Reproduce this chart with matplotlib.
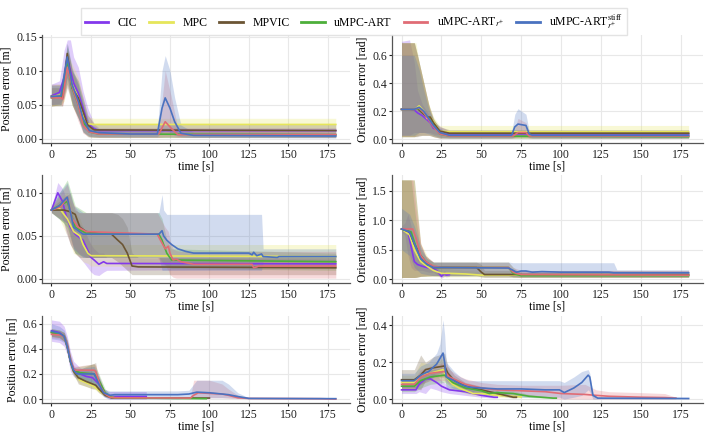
import matplotlib
matplotlib.use("Agg")
import matplotlib.pyplot as plt
from matplotlib.ticker import MultipleLocator

plt.rcParams['font.family'] = ['Liberation Serif', 'DejaVu Serif']
plt.rcParams['mathtext.fontset'] = 'stix'
plt.rcParams['font.size'] = 8.5

labels = ["CIC", "MPC", "MPVIC", "uMPC-ART", r"uMPC-ART$_{r^{+}}$",
          r"uMPC-ART$_{r^{+}}^{\mathrm{stiff}}$"]
colors = ["#8338ec", "#e6e65a", "#6b5534", "#4daf3a", "#e06c75", "#4a72c0"]

# each point: (time, mean, lower, upper)
# --- row 1, position
pos1_cic = [(0,.063,.050,.080),(5,.068,.052,.085),(8,.090,.060,.130),(10,.120,.075,.145),(12,.100,.060,.145),(14,.082,.045,.120),(17,.067,.030,.105),(20,.045,.015,.070),(23,.022,.010,.045),(27,.015,.009,.022),(30,.012,.008,.016),(180,.012,.008,.016)]
pos1_mpc = [(0,.062,.048,.078),(6,.064,.050,.080),(8,.080,.055,.110),(10,.110,.075,.130),(13,.080,.050,.110),(17,.060,.030,.090),(20,.035,.018,.060),(23,.022,.013,.032),(27,.021,.013,.030),(180,.021,.013,.030)]
pos1_mpvic = [(0,.062,.048,.080),(6,.062,.048,.080),(7,.060,.048,.080),(10,.125,.090,.140),(13,.075,.050,.100),(17,.060,.030,.085),(20,.040,.010,.060),(23,.020,.003,.035),(27,.013,.002,.022),(180,.012,.002,.022)]
pos1_art = [(0,.060,.048,.075),(6,.062,.050,.075),(10,.110,.080,.135),(13,.075,.050,.100),(17,.050,.030,.080),(20,.025,.010,.050),(24,.010,.003,.020),(30,.007,.002,.012),(180,.006,.002,.010)]
pos1_artr = [(0,.060,.048,.075),(6,.060,.050,.075),(7,.058,.048,.072),(10,.105,.080,.130),(14,.070,.045,.095),(17,.050,.025,.075),(20,.020,.008,.045),(24,.010,.003,.020),(30,.007,.002,.012),(68,.007,.002,.012),(72,.025,.003,.100),(76,.015,.003,.060),(80,.006,.002,.015),(180,.006,.002,.010)]
pos1_stiff = [(0,.062,.050,.078),(6,.063,.050,.078),(10,.120,.090,.140),(13,.080,.055,.105),(17,.055,.030,.080),(20,.030,.010,.055),(24,.012,.004,.022),(30,.009,.003,.015),(50,.007,.003,.012),(67,.007,.003,.012),(70,.045,.010,.100),(72,.060,.012,.122),(75,.045,.010,.100),(78,.025,.005,.060),(82,.008,.003,.020),(90,.005,.002,.010),(180,.004,.001,.008)]

# --- row 1, orientation
ori1_cic = [(0,.215,.030,.700),(5,.215,.030,.710),(8,.210,.050,.550),(10,.190,.050,.350),(13,.170,.050,.250),(16,.140,.050,.200),(18,.120,.050,.160),(20,.080,.040,.120),(25,.060,.030,.090),(30,.040,.020,.060),(180,.040,.020,.060)]
ori1_mpc = [(0,.215,.020,.690),(8,.215,.020,.690),(9,.220,.030,.690),(11,.240,.050,.550),(14,.200,.050,.400),(16,.150,.050,.300),(18,.160,.040,.220),(20,.130,.030,.160),(24,.060,.020,.100),(30,.055,.010,.100),(180,.055,.010,.100)]
ori1_mpvic = [(0,.215,.020,.690),(8,.215,.020,.690),(10,.220,.020,.600),(13,.190,.030,.450),(16,.160,.030,.300),(18,.160,.030,.200),(20,.120,.020,.140),(24,.060,.010,.090),(30,.045,.010,.070),(180,.045,.010,.070)]
ori1_art = [(0,.215,.020,.690),(8,.215,.020,.690),(11,.220,.030,.550),(14,.190,.030,.400),(17,.150,.030,.250),(20,.100,.020,.150),(24,.040,.010,.070),(30,.025,.010,.040),(180,.020,.010,.035)]
ori1_artr = [(0,.215,.020,.690),(8,.215,.020,.690),(11,.225,.030,.550),(14,.190,.030,.400),(17,.140,.030,.250),(20,.090,.020,.150),(24,.040,.010,.070),(30,.025,.010,.040),(70,.025,.010,.040),(73,.050,.020,.150),(78,.050,.020,.120),(80,.025,.010,.040),(180,.025,.010,.040)]
ori1_stiff = [(0,.215,.030,.600),(8,.215,.030,.600),(11,.230,.050,.500),(14,.200,.050,.350),(17,.150,.040,.220),(20,.100,.030,.140),(24,.050,.015,.080),(30,.030,.010,.050),(69,.030,.010,.050),(71,.090,.020,.180),(73,.110,.030,.220),(78,.100,.030,.180),(80,.040,.015,.060),(82,.030,.010,.050),(180,.030,.010,.050)]

# --- row 2, position
pos2_cic = [(0,.080,.077,.083),(4,.100,.085,.112),(7,.090,.070,.105),(9,.075,.055,.095),(12,.060,.040,.080),(15,.052,.030,.070),(20,.045,.020,.060),(25,.025,.008,.040),(27,.022,.005,.035),(30,.017,.004,.030),(33,.020,.008,.030),(35,.018,.010,.025),(180,.0175,.012,.023)]
pos2_mpc = [(0,.080,.077,.083),(5,.082,.070,.095),(10,.070,.050,.100),(14,.055,.030,.080),(18,.050,.025,.070),(20,.040,.020,.060),(23,.030,.018,.045),(25,.027,.015,.040),(180,.026,.012,.040)]
pos2_mpvic = [(0,.080,.077,.083),(8,.080,.065,.095),(12,.078,.040,.100),(15,.075,.030,.080),(18,.060,.025,.077),(22,.055,.025,.077),(30,.053,.025,.077),(38,.052,.025,.077),(42,.045,.020,.075),(45,.040,.015,.070),(48,.030,.010,.060),(51,.015,.005,.030),(55,.014,.005,.025),(180,.013,.005,.025)]
pos2_art = [(0,.080,.077,.083),(5,.085,.070,.100),(10,.090,.060,.115),(15,.060,.030,.085),(22,.053,.025,.077),(68,.052,.025,.077),(70,.045,.020,.070),(73,.030,.015,.045),(76,.022,.012,.035),(180,.020,.010,.030)]
pos2_artr = [(0,.080,.077,.083),(6,.084,.070,.100),(10,.095,.065,.110),(13,.070,.040,.090),(17,.060,.030,.077),(22,.055,.025,.077),(67,.052,.025,.077),(69,.045,.020,.070),(72,.035,.015,.060),(74,.038,.010,.055),(75,.030,.005,.045),(77,.022,.002,.035),(79,.023,.001,.033),(82,.020,.001,.032),(90,.017,.001,.032),(127,.017,.001,.032),(128,.013,.001,.032),(130,.014,.001,.032),(131,.015,.001,.032),(180,.015,.001,.032)]
pos2_stiff = [(0,.080,.077,.083),(5,.085,.070,.100),(10,.095,.065,.112),(14,.060,.035,.085),(20,.052,.025,.077),(68,.052,.025,.077),(70,.056,.010,.098),(71,.050,.010,.080),(73,.045,.010,.075),(76,.040,.010,.075),(80,.035,.010,.075),(85,.032,.010,.075),(90,.030,.010,.075),(125,.030,.010,.075),(127,.028,.010,.075),(128,.031,.010,.075),(130,.027,.010,.075),(133,.029,.010,.075),(134,.026,.020,.035),(143,.025,.020,.035),(144,.026,.020,.035),(180,.026,.020,.035)]

# --- row 2, orientation
ori2_cic = [(0,.85,.80,.90),(2,.85,.75,.95),(4,.80,.40,1.10),(6,.55,.20,.90),(8,.30,.15,.45),(10,.25,.15,.35),(13,.22,.15,.30),(17,.19,.12,.26),(20,.18,.12,.24),(22,.15,.08,.22),(25,.05,.02,.10),(27,.10,.05,.15),(28,.07,.04,.10),(30,.08,.05,.11)]
ori2_mpc = [(0,.85,.03,1.68),(5,.75,.03,1.68),(8,.50,.03,1.68),(12,.30,.05,.60),(17,.20,.05,.35),(20,.15,.05,.28),(25,.10,.04,.20),(30,.10,.04,.18),(40,.09,.04,.15),(45,.08,.04,.14),(50,.07,.04,.12),(75,.07,.04,.12)]
ori2_mpvic = [(0,.85,.03,1.68),(5,.80,.03,1.68),(8,.60,.03,1.68),(12,.40,.05,.60),(15,.30,.05,.40),(20,.20,.06,.29),(47,.20,.06,.29),(50,.12,.04,.25),(52,.08,.03,.15),(180,.08,.03,.14)]
ori2_art = [(0,.85,.03,1.68),(6,.80,.03,1.68),(9,.55,.03,1.00),(12,.35,.05,.50),(16,.25,.06,.35),(20,.20,.06,.29),(67,.20,.06,.29),(70,.10,.04,.20),(75,.06,.03,.10),(180,.06,.03,.10)]
ori2_artr = [(0,.85,.03,1.68),(7,.85,.03,1.68),(9,.70,.03,1.20),(12,.40,.05,.60),(15,.30,.06,.40),(20,.22,.06,.29),(25,.20,.06,.29),(67,.20,.06,.29),(70,.12,.04,.20),(72,.10,.04,.18),(75,.08,.03,.15),(180,.07,.03,.15)]
ori2_stiff = [(0,.85,.50,1.20),(5,.80,.40,1.10),(8,.60,.20,.90),(12,.35,.10,.55),(16,.25,.08,.35),(20,.20,.06,.29),(67,.19,.06,.29),(70,.15,.05,.28),(72,.12,.05,.28),(75,.14,.05,.28),(78,.14,.05,.28),(82,.12,.05,.28),(88,.13,.05,.28),(100,.12,.05,.28),(130,.12,.05,.28),(133,.11,.05,.28),(135,.11,.05,.16),(180,.11,.05,.16)]

# --- row 3, position
pos3_cic = [(0,.545,.46,.63),(5,.53,.45,.62),(8,.50,.42,.58),(10,.42,.35,.50),(12,.30,.22,.38),(14,.24,.18,.30),(18,.20,.15,.25),(22,.18,.13,.23),(26,.17,.12,.22),(30,.12,.07,.18),(33,.05,.02,.08),(36,.02,.0,.06),(45,.02,.0,.06),(60,.02,.0,.06)]
pos3_mpc = [(0,.53,.50,.56),(5,.52,.49,.55),(8,.50,.46,.53),(10,.42,.38,.46),(12,.30,.26,.34),(14,.22,.18,.25),(18,.15,.12,.18),(22,.13,.10,.16),(27,.10,.08,.13),(32,.05,.03,.07),(36,.02,.01,.03),(40,.01,.005,.015),(60,.008,.004,.012)]
pos3_mpvic = [(0,.53,.50,.56),(5,.52,.49,.55),(8,.50,.46,.53),(10,.42,.38,.46),(12,.30,.26,.34),(14,.22,.20,.25),(17,.17,.12,.23),(22,.14,.10,.26),(26,.12,.08,.28),(28,.11,.08,.29),(30,.08,.05,.12),(34,.03,.02,.05),(38,.01,.005,.02),(100,.008,.004,.012)]
pos3_art = [(0,.53,.50,.56),(5,.52,.49,.55),(8,.50,.46,.53),(10,.42,.38,.46),(12,.30,.26,.34),(14,.23,.20,.25),(18,.21,.15,.26),(27,.20,.12,.28),(30,.15,.08,.20),(34,.05,.02,.08),(38,.015,.005,.025),(40,.01,.004,.016),(98,.003,.001,.006)]
pos3_artr = [(0,.515,.49,.54),(5,.51,.48,.54),(8,.50,.46,.53),(10,.43,.39,.47),(12,.31,.27,.35),(14,.24,.21,.27),(15,.23,.20,.26),(27,.23,.18,.28),(28,.22,.17,.27),(31,.10,.06,.15),(34,.04,.02,.06),(37,.015,.005,.025),(40,.01,.004,.016),(88,.008,.003,.015),(90,.03,.005,.15),(93,.05,.01,.15),(100,.045,.01,.15),(108,.04,.01,.12),(112,.03,.005,.08),(118,.01,.003,.03),(125,.005,.002,.01),(170,.003,.001,.006),(180,.0,.0,.003)]
pos3_stiff = [(0,.54,.48,.60),(5,.525,.47,.58),(8,.50,.45,.55),(10,.42,.37,.47),(12,.30,.25,.35),(14,.23,.19,.26),(16,.20,.16,.24),(27,.20,.13,.26),(30,.12,.07,.18),(33,.05,.02,.08),(37,.03,.0,.065),(40,.035,.0,.065),(80,.035,.0,.065),(87,.04,.01,.07),(92,.055,.01,.15),(100,.05,.01,.15),(108,.04,.01,.15),(112,.035,.01,.12),(118,.02,.005,.05),(125,.005,.002,.01),(180,.003,.001,.006)]

# --- row 3, orientation
ori3_cic = [(0,.05,.03,.07),(9,.05,.03,.07),(11,.08,.04,.12),(15,.11,.03,.16),(18,.11,.06,.15),(22,.09,.05,.13),(25,.07,.04,.10),(30,.05,.03,.07),(40,.04,.02,.06),(45,.03,.015,.045),(50,.02,.01,.03),(58,.01,.005,.015),(60,.01,.005,.015)]
ori3_mpc = [(0,.09,.05,.13),(8,.09,.05,.13),(12,.13,.08,.20),(18,.14,.10,.19),(26,.16,.12,.22),(28,.12,.08,.17),(32,.08,.05,.11),(36,.06,.04,.09),(45,.03,.02,.05),(50,.03,.02,.045),(60,.02,.01,.03),(70,.015,.008,.022),(75,.012,.006,.018)]
ori3_mpvic = [(0,.105,.06,.16),(8,.105,.06,.16),(12,.13,.05,.24),(15,.16,.10,.20),(20,.17,.12,.23),(27,.18,.12,.25),(29,.14,.10,.18),(33,.10,.07,.13),(40,.07,.05,.09),(50,.05,.03,.07),(60,.03,.02,.045),(70,.01,.005,.02),(72,.01,.005,.02)]
ori3_art = [(0,.07,.04,.10),(8,.07,.04,.10),(12,.10,.06,.15),(18,.12,.08,.16),(27,.13,.09,.17),(32,.09,.06,.12),(40,.06,.04,.08),(50,.045,.03,.06),(55,.03,.02,.045),(60,.035,.02,.05),(70,.03,.015,.045),(80,.015,.008,.025),(95,.005,.002,.01),(97,.005,.002,.01)]
ori3_artr = [(0,.08,.05,.11),(8,.08,.05,.11),(12,.12,.08,.16),(18,.14,.10,.18),(27,.15,.10,.20),(30,.12,.08,.16),(35,.10,.07,.13),(40,.08,.05,.11),(50,.06,.03,.09),(60,.05,.02,.08),(75,.045,.02,.075),(90,.04,.01,.075),(100,.03,.0,.075),(115,.025,.0,.08),(122,.02,.0,.05),(130,.015,.0,.04),(150,.01,.0,.035),(165,.008,.0,.03),(172,.005,.0,.01)]
ori3_stiff = [(0,.10,.06,.14),(8,.10,.06,.14),(12,.13,.08,.18),(17,.15,.10,.20),(22,.19,.13,.25),(24,.22,.14,.30),(26,.25,.15,.43),(27,.20,.12,.35),(28,.12,.06,.20),(33,.10,.05,.15),(37,.08,.04,.12),(42,.065,.03,.10),(50,.06,.02,.10),(60,.055,.02,.10),(75,.055,.01,.10),(90,.05,.01,.10),(99,.05,.01,.10),(102,.035,.0,.09),(108,.06,.01,.12),(113,.09,.02,.15),(117,.13,.05,.16),(118,.12,.04,.14),(120,.02,.0,.03),(123,.005,.0,.01),(180,.003,.0,.006)]

panels = [
    [pos1_cic, pos1_mpc, pos1_mpvic, pos1_art, pos1_artr, pos1_stiff],
    [ori1_cic, ori1_mpc, ori1_mpvic, ori1_art, ori1_artr, ori1_stiff],
    [pos2_cic, pos2_mpc, pos2_mpvic, pos2_art, pos2_artr, pos2_stiff],
    [ori2_cic, ori2_mpc, ori2_mpvic, ori2_art, ori2_artr, ori2_stiff],
    [pos3_cic, pos3_mpc, pos3_mpvic, pos3_art, pos3_artr, pos3_stiff],
    [ori3_cic, ori3_mpc, ori3_mpvic, ori3_art, ori3_artr, ori3_stiff],
]
ysteps = [0.05, 0.2, 0.05, 0.5, 0.2, 0.2]

W, H = 708, 432
fig = plt.figure(figsize=(W / 100, H / 100), dpi=100)

# axes boxes in pixels: (top, height) per row, (left, width) per column
rows = [(35, 108), (175, 108), (316, 87)]
cols = [(42, 308), (392, 311)]
ylabels = ["Position error [m]", "Orientation error [rad]"]

for i, series in enumerate(panels):
    r, c = divmod(i, 2)
    top, h = rows[r]
    left, w = cols[c]
    ax = fig.add_axes([left / W, 1 - (top + h) / H, w / W, h / H])
    for data, col in zip(series, colors):
        t = [p[0] for p in data]
        lo = [p[2] for p in data]
        hi = [p[3] for p in data]
        ax.fill_between(t, lo, hi, color=col, alpha=0.25, linewidth=0)
    for data, col, lab in zip(series, colors, labels):
        t = [p[0] for p in data]
        y = [p[1] for p in data]
        ax.plot(t, y, color=col, lw=1.2, label=lab)
    ax.set_xlim(-6, 189)
    ax.set_xlabel("time [s]", labelpad=0)
    ax.set_ylabel(ylabels[c], labelpad=3)
    ax.set_xticks([0, 25, 50, 75, 100, 125, 150, 175])
    ax.yaxis.set_major_locator(MultipleLocator(ysteps[i]))
    ax.grid(True, color="#e8e8e8", lw=0.8)
    ax.set_axisbelow(True)
    for s in ["top", "right"]:
        ax.spines[s].set_visible(False)
    for s in ["left", "bottom"]:
        ax.spines[s].set_color("#555555")
        ax.spines[s].set_linewidth(0.9)
    ax.tick_params(colors="#222222", length=2.5, width=0.8)
    ax.tick_params(axis="y", pad=1)
    ax.tick_params(axis="x", pad=1.5)
    if i == 0:
        handles, labs = ax.get_legend_handles_labels()

leg = fig.legend(handles, labs, loc="upper center", bbox_to_anchor=(0.5, 0.995), ncol=6,
                 frameon=True, edgecolor="#dddddd", fancybox=False, handlelength=2.0,
                 columnspacing=1.0, borderpad=0.35)
for lh in leg.get_lines():
    lh.set_linewidth(2)

fig.savefig("out.png", dpi=100)
